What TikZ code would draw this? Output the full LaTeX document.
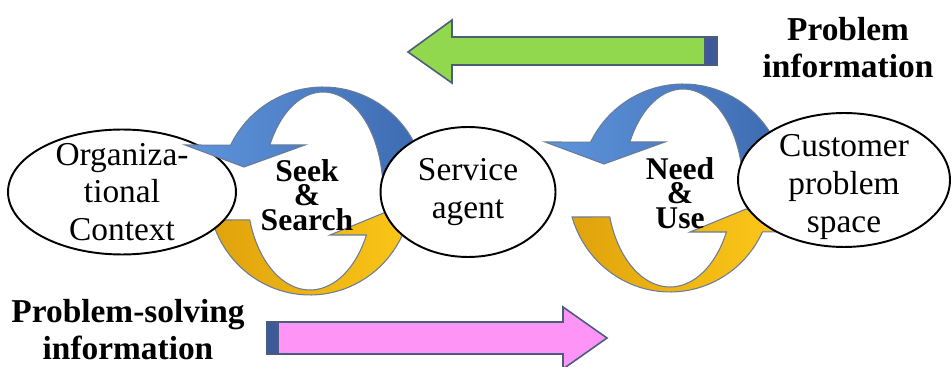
\documentclass[tikz,border=0pt]{standalone}
\usepackage{fontspec}
\setmainfont{Liberation Serif}
\usetikzlibrary{shapes.geometric}
\definecolor{bandblueL}{HTML}{5E95DC}
\definecolor{bandblueR}{HTML}{3D6AB0}
\definecolor{bandgoldL}{HTML}{E0A30C}
\definecolor{bandgoldR}{HTML}{FFCB1A}
\definecolor{bandline}{HTML}{6A7C99}
\definecolor{greenarrow}{HTML}{92D84E}
\definecolor{pinkarrow}{HTML}{FF94F7}
\definecolor{arrowline}{HTML}{4B5D7A}
\definecolor{arrowend}{HTML}{3C5A9A}

\begin{document}
\begin{tikzpicture}[x=0.02cm, y=-0.02cm,
  ell/.style={ellipse, draw=black, line width=1.1pt, fill=white, inner sep=0pt},
  txt/.style={align=center, inner sep=0pt, font=\fontsize{19}{21.5}\selectfont},
  boldtxt/.style={align=center, inner sep=0pt, font=\bfseries\fontsize{19}{21}\selectfont},
  cycletxt/.style={align=center, inner sep=0pt, font=\bfseries\fontsize{18}{14}\selectfont},
  blueband/.style={left color=bandblueL, right color=bandblueR, draw=bandline, line width=0.6pt},
  goldband/.style={left color=bandgoldL, right color=bandgoldR, draw=bandline, line width=0.6pt},
  flatarrow/.style={draw=arrowline, line width=0.9pt}]

\useasboundingbox (0,0) rectangle (952,367);

\path [flatarrow, fill=greenarrow] (408,52) -- (452,20) -- (452,37) -- (717,37)
-- (717,65) -- (452,65) -- (452,83) -- cycle;
\path [flatarrow, fill=arrowend] (705,37) rectangle (717,65);

\path [flatarrow, fill=pinkarrow] (267,322) -- (563,322) -- (563,307) -- (607,338)
-- (563,369) -- (563,354) -- (267,354) -- cycle;
\path [flatarrow, fill=arrowend] (267,322) rectangle (278,354);

\foreach \dx/\dy in {0/0, 360/-3}
{
\path [goldband, shift={(\dx,\dy)}]
plot [domain=196.2:335, samples=40] ( {310+102*cos(\x)}, {191-104*sin(\x)})
-- (440,235) -- (386,212) -- (330,235)
-- plot [domain=333.6:197, samples=40] ( {310+63*cos(\x)}, {191-99*sin(\x)}) -- cycle;
}

\node [ell, minimum width=4.56cm, minimum height=2.5cm] (org) at (122,192) {};

\path [blueband]
plot [domain=8.8:153.8, samples=40] ( {323+103*cos(\x)}, {191-104*sin(\x)})
-- (185,145) -- (244,167) -- (305,145)
-- plot [domain=152.3:9.3, samples=40] ( {323+60*cos(\x)}, {191-99*sin(\x)}) -- cycle;

\node [ell, minimum width=3.5cm, minimum height=2.6cm] (agent) at (468,192) {};

\path [blueband, shift={(360,-3)}]
plot [domain=8.8:153.8, samples=40] ( {323+103*cos(\x)}, {191-104*sin(\x)})
-- (185,145) -- (244,167) -- (305,145)
-- plot [domain=152.3:9.3, samples=40] ( {323+60*cos(\x)}, {191-99*sin(\x)}) -- cycle;

\node [ell, minimum width=4.24cm, minimum height=2.68cm] (cust) at (844,180) {};

\node [txt] (orgtxt) at (org) {Organiza-\\tional\\Context};
\node [txt] (agenttxt) at (agent) {Service\\agent};
\node [txt] (custtxt) at ([yshift=-4]cust.center) {Customer\\problem\\space};

\node [cycletxt] (seek) at (307,195) {Seek\\\&\\Search};
\node [cycletxt] (need) at (680,193) {Need\\\&\\Use};

\node [boldtxt] (probinfo) at (848,48) {Problem\\information};
\node [boldtxt] (solveinfo) at (128,330) {Problem-solving\\information};

\end{tikzpicture}
\end{document}
